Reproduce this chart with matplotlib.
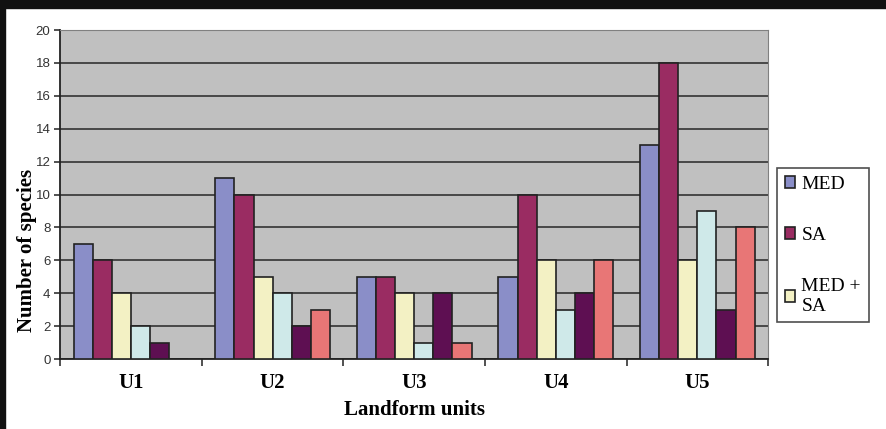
import matplotlib.pyplot as plt
import numpy as np
from matplotlib.patches import Rectangle

units = ["U1", "U2", "U3", "U4", "U5"]
series_names = ["MED", "SA", "MED +\nSA", "MED + TI", "SA + TI", "MED + SA + TI"]
med = [7, 11, 5, 5, 13]
sa = [6, 10, 5, 10, 18]
med_sa = [4, 5, 4, 6, 6]
med_ti = [2, 4, 1, 3, 9]
sa_ti = [1, 2, 4, 4, 3]
med_sa_ti = [0, 3, 1, 6, 8]
colors = ["#8a8ec8", "#9a2c62", "#f3f1c4", "#cfe9e9", "#5e0f52", "#e87676"]

values = [med, sa, med_sa, med_ti, sa_ti, med_sa_ti]

fig = plt.figure(figsize=(8.86, 4.29), dpi=100)
ax = fig.add_axes([0.068, 0.163, 0.799, 0.767])
ax.set_facecolor("#c0c0c0")

x = np.arange(len(units))
w = 0.135
bars = []
for i, (vals, c) in enumerate(zip(values, colors)):
    b = ax.bar(x + (i - 2.5) * w, vals, w, color=c, edgecolor="#222222",
               linewidth=1.2, zorder=3)
    bars.append(b)

ax.set_xlim(-0.5, 4.5)
ax.set_ylim(0, 20)
ax.set_yticks(range(0, 21, 2))
ax.yaxis.grid(True, color="#333333", linewidth=1.2, zorder=0)
ax.set_axisbelow(True)

ax.set_xticks(x)
ax.set_xticklabels(units, fontfamily="Liberation Serif", fontweight="bold", fontsize=15)
ax.set_xticks(np.arange(-0.5, 5, 1), minor=True)
ax.tick_params(axis="x", which="major", length=0, pad=10)
ax.tick_params(axis="x", which="minor", length=5, width=1.2, color="#333333")
ax.tick_params(axis="y", length=4, width=1.2, color="#333333", labelsize=9.5, pad=3)
for lab in ax.get_yticklabels():
    lab.set_fontfamily("Liberation Sans")
    lab.set_color("#333333")

for s in ["top", "right"]:
    ax.spines[s].set_color("#808080")
for s in ["left", "bottom"]:
    ax.spines[s].set_color("#222222")
    ax.spines[s].set_linewidth(1.3)

ax.set_ylabel("Number of species", fontfamily="Liberation Serif", fontweight="bold",
              fontsize=15)
ax.yaxis.set_label_coords(-0.033, 0.33)
ax.set_xlabel("Landform units", fontfamily="Liberation Serif", fontweight="bold",
              fontsize=15, labelpad=5)

# only the first three series appear in the legend box
leg = fig.legend([b[0] for b in bars[:3]], series_names[:3],
                 loc="upper left", bbox_to_anchor=(0.877, 0.608),
                 prop={"family": "Liberation Serif", "size": 14},
                 frameon=True, fancybox=False, edgecolor="#222222",
                 handlelength=0.55, handleheight=0.55, handletextpad=0.3,
                 labelspacing=1.75, borderpad=0.4, borderaxespad=0)
leg.get_frame().set_linewidth(1.2)

# dark frame along the top and left edges of the figure
fig.patches.append(Rectangle((0, 0.982), 1, 0.018, transform=fig.transFigure,
                             color="#111111", zorder=10))
fig.patches.append(Rectangle((0, 0), 0.006, 1, transform=fig.transFigure,
                             color="#111111", zorder=10))

fig.savefig("out.png", dpi=100)
